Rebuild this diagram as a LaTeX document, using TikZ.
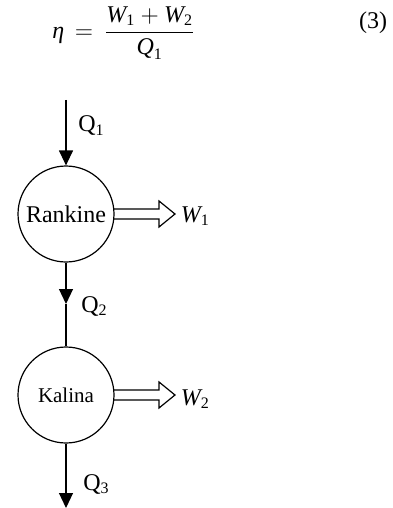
\documentclass[tikz,border=0pt]{standalone}
\usepackage{fontspec}
\usepackage{amsmath}
\setmainfont{Liberation Serif}
\usetikzlibrary{arrows.meta,positioning}
\newcommand{\iv}[1]{\text{\itshape #1}}
\begin{document}
\begin{tikzpicture}[x=0.5pt,y=-0.5pt,line width=0.6pt,
  every node/.style={font=\fontsize{12}{14}\selectfont},
  cycle/.style={draw,circle,minimum size=48pt,inner sep=0pt},
  flow/.style={-{Triangle[width=7pt,length=7.5pt]}},
  work/.pic={\draw (0,-5) -- (45,-5) -- (45,-13) -- (61,0) -- (45,13) -- (45,5) -- (0,5);}]
  \useasboundingbox (0,0) rectangle (392,508);
  % Efficiency
  \node (eq) at (124,33) {$\iv{η} \,=\, \dfrac{\iv{W}_{\text{1}} + \iv{W}_{\text{2}}}{\iv{Q}_{\text{1}}}$};
  \node (num) at (373,23) {(3)};
  % Cycles
  \node[cycle] (rank) at (66,214) {Rankine};
  \node[cycle,font=\fontsize{10.5}{13}\selectfont] (kal) at (66,395) {Kalina};
  % Heat flows
  \coordinate (qin) at (66,100);
  \coordinate (qmid) at (66,304);
  \coordinate (qout) at (66,508);
  \draw[flow] (qin) -- (rank);
  \draw[flow] (rank) -- (qmid);
  \draw (qmid) -- (kal);
  \draw[flow] (kal) -- (qout);
  \node[anchor=west] (q1) at (71,126) {Q$_{\text{1}}$};
  \node[anchor=west] (q2) at (74,306) {Q$_{\text{2}}$};
  \node[anchor=west] (q3) at (76,484) {Q$_{\text{3}}$};
  % Work output
  \pic at ([xshift=-0.3pt]rank.east) {work};
  \pic at ([xshift=-0.3pt]kal.east) {work};
  \node[anchor=west] (w1) at ([xshift=29.5pt,yshift=-1pt]rank.east) {$\iv{W}_{\text{1}}$};
  \node[anchor=west] (w2) at ([xshift=29.5pt,yshift=-2pt]kal.east) {$\iv{W}_{\text{2}}$};
\end{tikzpicture}
\end{document}
